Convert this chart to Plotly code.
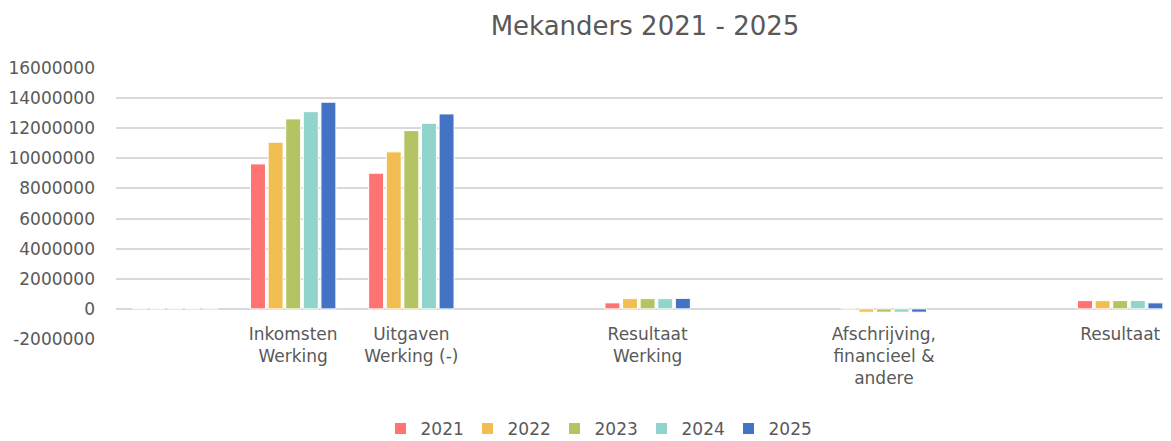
"""Mekanders 2021 - 2025: grouped bar chart."""

import plotly.graph_objects as go

categories = [
    "",
    "Inkomsten<br>Werking",
    "Uitgaven<br>Werking (-)",
    "",
    "Resultaat<br>Werking",
    "",
    "Afschrijving,<br>financieel &<br>andere",
    "",
    "Resultaat",
]

years = ["2021", "2022", "2023", "2024", "2025"]

v2021 = [40000, 9630000, 9010000, None, 400000, None, 50000, None, 550000]
v2022 = [35000, 11070000, 10430000, None, 680000, None, -220000, None, 550000]
v2023 = [35000, 12620000, 11840000, None, 680000, None, -220000, None, 550000]
v2024 = [35000, 13100000, 12330000, None, 680000, None, -220000, None, 550000]
v2025 = [40000, 13730000, 12950000, None, 700000, None, -220000, None, 400000]

y_ticks = [-2000000, 0, 2000000, 4000000, 6000000, 8000000,
           10000000, 12000000, 14000000, 16000000]
y_tick_labels = ["-2000000", "0", "2000000", "4000000", "6000000", "8000000",
                 "10000000", "12000000", "14000000", "16000000"]

colors = ["#FF7373", "#F2BE51", "#B4C462", "#90D4CC", "#4472C4"]

text_color = "#595959"
font_family = "DejaVu Sans"

# the page body keeps an 8px margin, so the figure is drawn 8px smaller
fig_w, fig_h = 1163, 433

fig = go.Figure()
x_pos = list(range(len(categories)))
for name, values, color in zip(years, [v2021, v2022, v2023, v2024, v2025], colors):
    fig.add_trace(
        go.Bar(
            x=x_pos,
            y=values,
            name=name,
            marker=dict(color=color, line=dict(color="white", width=1)),
        )
    )

fig.update_layout(
    width=fig_w,
    height=fig_h,
    barmode="group",
    bargap=0.255,
    bargroupgap=0.15,
    plot_bgcolor="white",
    paper_bgcolor="white",
    font=dict(family=font_family, size=17, color=text_color),
    margin=dict(l=108, r=0, t=60, b=102, autoexpand=False),
    title=dict(
        text="Mekanders 2021 - 2025",
        font=dict(size=26, color=text_color),
        x=637 / fig_w,
        xref="container",
        xanchor="center",
        y=(fig_h - 18) / fig_h,
        yref="container",
        yanchor="middle",
    ),
    legend=dict(
        orientation="h",
        x=590 / fig_w,
        xref="container",
        xanchor="center",
        y=-0.332,
        yref="paper",
        yanchor="middle",
        font=dict(size=17, color=text_color),
        itemwidth=30,
        entrywidth=42,
    ),
)

fig.update_xaxes(
    tickmode="array",
    tickvals=x_pos,
    ticktext=categories,
    range=[-0.5, 8.43],
    showgrid=False,
    zeroline=False,
    showline=False,
    ticks="",
    ticklabelstandoff=-17,
)

fig.update_yaxes(
    range=[-2000000, 16000000],
    tickmode="array",
    tickvals=y_ticks,
    ticktext=y_tick_labels,
    showgrid=True,
    gridcolor="#D9D9D9",
    gridwidth=1.5,
    zeroline=True,
    zerolinecolor="#D9D9D9",
    zerolinewidth=1.5,
    showline=False,
    ticks="",
    ticklabelstandoff=20,
)

fig.write_html("out.html")
